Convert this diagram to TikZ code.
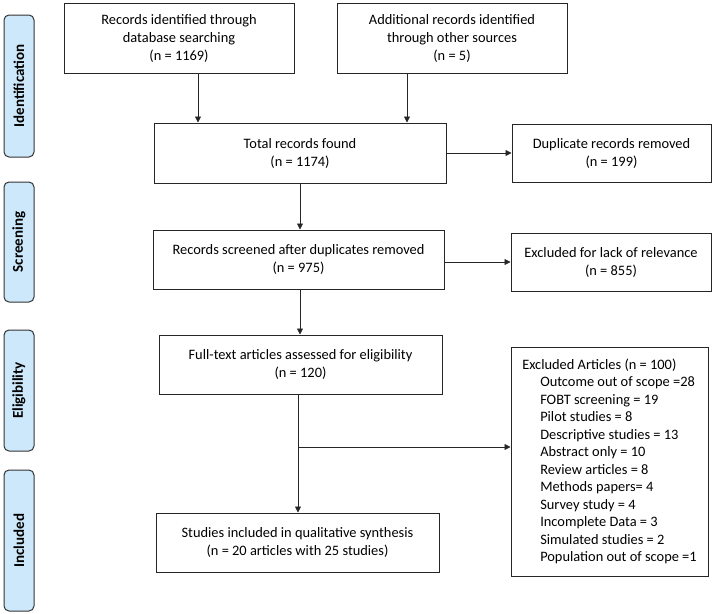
\documentclass[tikz,border=0pt]{standalone}
\usepackage{fontspec}
\setmainfont{Carlito}
\usetikzlibrary{arrows.meta}
\definecolor{phasefill}{RGB}{204,232,250}
\begin{document}
\begin{tikzpicture}[x=1pt, y=-1pt,
    box/.style={draw=black!85, line width=1pt, align=center, inner sep=0pt,
        font=\fontsize{14.4}{18}\selectfont},
    phase/.style={draw=black!80, line width=1pt, fill=phasefill, rounded corners=5pt,
        rotate=90, minimum height=30pt, inner sep=0pt,
        font=\fontsize{15}{18}\selectfont\bfseries},
    arr/.style={line width=0.8pt, draw=black!85, -{Triangle[length=6pt,width=6pt]}}]
    \useasboundingbox (0,0) rectangle (714,613);
    % phases
    \node[phase, minimum width=142pt] (idf) at (19,86) {Identification};
    \node[phase, minimum width=120pt] (scr) at (19,242) {Screening};
    \node[phase, minimum width=121pt] (elg) at (19,390.5) {Eligibility};
    \node[phase, minimum width=141pt] (inc) at (19,540.5) {Included};
    % boxes
    \node[box, minimum width=230pt, minimum height=70pt] (dbase) at (179,38)
        {Records identified through\\database searching\\(n = 1169)};
    \node[box, minimum width=230pt, minimum height=70pt] (other) at (452,38)
        {Additional records identified\\through other sources\\(n = 5)};
    \node[box, minimum width=292pt, minimum height=60pt] (total) at (300,153)
        {Total records found\\(n = 1174)};
    \node[box, minimum width=199pt, minimum height=58pt] (dupl) at (611.5,153)
        {Duplicate records removed\\(n = 199)};
    \node[box, minimum width=291pt, minimum height=59pt] (scrnd) at (298.5,259.5)
        {Records screened after duplicates removed\\(n = 975)};
    \node[box, minimum width=200pt, minimum height=58pt] (relev) at (611,262)
        {Excluded for lack of relevance\\(n = 855)};
    \node[box, minimum width=283pt, minimum height=59pt] (full) at (300.5,364.5)
        {Full-text articles assessed for eligibility\\(n = 120)};
    \node[box, minimum width=283pt, minimum height=59pt] (incl) at (297.5,542.5)
        {Studies included in qualitative synthesis\\(n = 20 articles with 25 studies)};
    \node[box, align=left, minimum width=197pt, minimum height=229pt,
        font=\fontsize{14.4}{17.5}\selectfont] (excl) at (609.5,461.5)
        {Excluded Articles (n = 100)\\
        \hspace*{18pt}Outcome out of scope =28\\
        \hspace*{18pt}FOBT screening = 19\\
        \hspace*{18pt}Pilot studies = 8\\
        \hspace*{18pt}Descriptive studies = 13\\
        \hspace*{18pt}Abstract only = 10\\
        \hspace*{18pt}Review articles = 8\\
        \hspace*{18pt}Methods papers= 4\\
        \hspace*{18pt}Survey study = 4\\
        \hspace*{18pt}Incomplete Data = 3\\
        \hspace*{18pt}Simulated studies = 2\\
        \hspace*{18pt}Population out of scope =1};
    % connectors
    \coordinate (a1) at (198,0);
    \coordinate (a2) at (407,0);
    \coordinate (br) at (298,447);
    \draw[arr] (dbase.south -| a1) -- (total.north -| a1);
    \draw[arr] (other.south -| a2) -- (total.north -| a2);
    \draw[arr] (total.east) -- (dupl.west);
    \draw[arr] (total.south) -- (total.south |- scrnd.north);
    \draw[arr] (scrnd.east |- relev.west) -- (relev.west);
    \draw[arr] (total.south |- scrnd.south) -- (total.south |- full.north);
    \draw[arr] (full.south -| br) -- (incl.north -| br);
    \draw[arr] (br) -- (excl.west |- br);
\end{tikzpicture}
\end{document}
